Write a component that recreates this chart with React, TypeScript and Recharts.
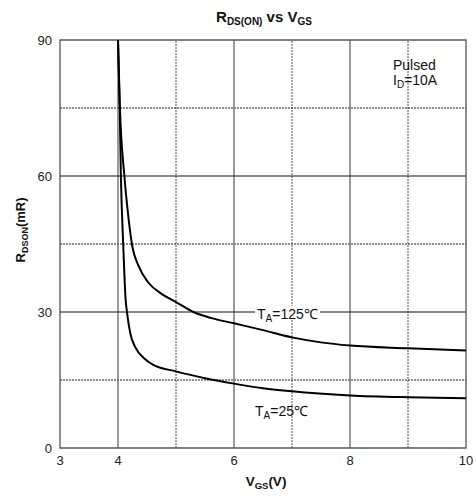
import React from "react";
import { LineChart, Line, XAxis, YAxis, ReferenceLine, ReferenceArea } from "recharts";

const vgs25 = [4.0, 4.03, 4.05, 4.09, 4.13, 4.16, 4.21, 4.3, 4.45, 4.6, 5.0, 5.5, 6.0, 6.5, 7.0, 8.0, 9.0, 10.0];
const r25 = [90, 75, 60, 45, 33, 29.5, 25.4, 22.2, 19.8, 18.4, 16.9, 15.4, 14.2, 13.2, 12.5, 11.6, 11.2, 11.0];
const vgs125 = [4.0, 4.03, 4.11, 4.17, 4.24, 4.36, 4.53, 4.75, 5.0, 5.3, 5.6, 6.0, 6.5, 7.0, 7.5, 8.0, 9.0, 10.0];
const r125 = [90, 76, 60, 52, 45, 40, 36.4, 34, 32.2, 30.0, 28.7, 27.5, 26.0, 24.4, 23.3, 22.6, 22.0, 21.5];

const xTicks = [3, 4, 6, 8, 10];
const yTicks = [0, 30, 60, 90];
const majorX = [4, 6, 8];
const minorX = [5, 7, 9];
const majorY = [30, 60];
const minorY = [15, 45, 75];

const data25 = vgs25.map((v, i) => ({ v, r: r25[i] }));
const data125 = vgs125.map((v, i) => ({ v, r: r125[i] }));

const FONT = "'Liberation Sans', Arial, sans-serif";

export default function App() {
  return (
    <div style={{ position: "absolute", left: 0, top: 0, width: 476, height: 497, background: "#fff" }}>
      <LineChart width={476} height={497} margin={{ top: 40, right: 10, bottom: 0, left: 0 }}>
        <XAxis
          dataKey="v"
          type="number"
          domain={[3, 10]}
          ticks={xTicks}
          allowDuplicatedCategory={false}
          tickLine={false}
          axisLine={false}
          height={49}
          tick={{ fill: "#222", fontSize: 13, fontFamily: FONT }}
        />
        <YAxis
          dataKey="r"
          type="number"
          domain={[0, 90]}
          ticks={yTicks}
          tickLine={false}
          axisLine={false}
          width={60}
          tick={{ fill: "#222", fontSize: 13, fontFamily: FONT }}
        />
        {minorX.map((x) => (
          <ReferenceLine key={"mx" + x} x={x} stroke="#555" strokeDasharray="2 1" />
        ))}
        {minorY.map((y) => (
          <ReferenceLine key={"my" + y} y={y} stroke="#222" strokeDasharray="2 1" />
        ))}
        {majorX.map((x) => (
          <ReferenceLine key={"Mx" + x} x={x} stroke="#666" strokeWidth={1.3} />
        ))}
        {majorY.map((y) => (
          <ReferenceLine key={"My" + y} y={y} stroke="#111" />
        ))}
        <ReferenceArea x1={3} x2={10} y1={0} y2={90} fill="none" stroke="#555" strokeWidth={1.3} />
        <Line data={data125} dataKey="r" type="monotoneX" stroke="#000" strokeWidth={2} dot={false} isAnimationActive={false} />
        <Line data={data25} dataKey="r" type="monotoneX" stroke="#000" strokeWidth={2} dot={false} isAnimationActive={false} />
      </LineChart>
      <svg width={476} height={497} style={{ position: "absolute", left: 0, top: 0, pointerEvents: "none" }} fontFamily={FONT}>
        <text x={264} y={22} textAnchor="middle" fontWeight="bold" fontSize={15} fill="#111">
          R<tspan fontSize={10} dy={3}>DS(ON)</tspan>
          <tspan dy={-3}> vs V</tspan>
          <tspan fontSize={10} dy={3}>GS</tspan>
        </text>
        <text transform="translate(25,230) rotate(-90)" textAnchor="middle" fontWeight="bold" fontSize={13} fill="#111">
          R<tspan fontSize={9} dy={3}>DSON</tspan>
          <tspan dy={-3}>(mR)</tspan>
        </text>
        <text x={266} y={486} textAnchor="middle" fontWeight="bold" fontSize={13.5} fill="#111">
          V<tspan fontSize={9.5} dy={3}>GS</tspan>
          <tspan dy={-3}>(V)</tspan>
        </text>
        <text x={393} y={70} fontSize={14} fill="#111">Pulsed</text>
        <text x={393} y={85} fontSize={14} fill="#111">
          I<tspan fontSize={10} dy={3}>D</tspan>
          <tspan dy={-3}>=10A</tspan>
        </text>
        <rect x={255} y={306} width={65} height={12} fill="#fff" />
        <text x={257} y={319} fontSize={14} fill="#111">
          T<tspan fontSize={10} dy={3}>A</tspan>
          <tspan dy={-3}>=125℃</tspan>
        </text>
        <text x={255} y={416} fontSize={14} fill="#111">
          T<tspan fontSize={10} dy={3}>A</tspan>
          <tspan dy={-3}>=25℃</tspan>
        </text>
      </svg>
    </div>
  );
}
